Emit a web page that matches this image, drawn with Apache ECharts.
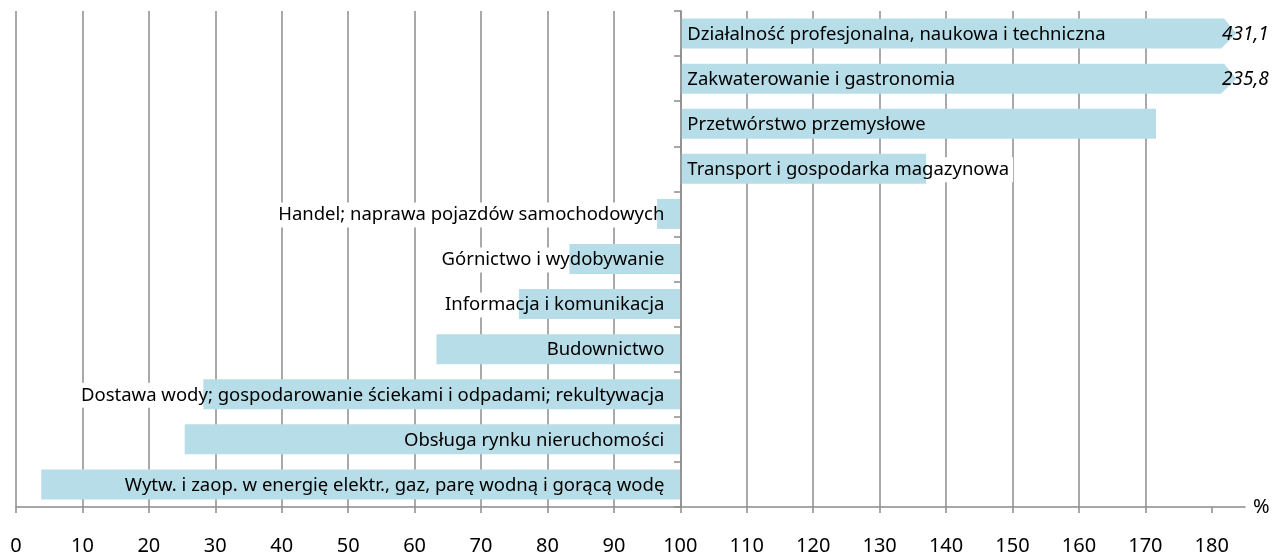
<!DOCTYPE html>
<html>
<head>
<meta charset="utf-8">
<script src="https://cdn.jsdelivr.net/npm/echarts@6/dist/echarts.min.js"></script>
<style>
	html, body { margin: 0; padding: 0; background: #fff; }
	#chart { width: 1274px; height: 556px; }
</style>
</head>
<body>
<div id="chart"></div>
<script>
	// kategorie od góry do dołu
	const categories = [
		'Działalność profesjonalna, naukowa i techniczna',
		'Zakwaterowanie i gastronomia',
		'Przetwórstwo przemysłowe',
		'Transport i gospodarka magazynowa',
		'Handel; naprawa pojazdów samochodowych',
		'Górnictwo i wydobywanie',
		'Informacja i komunikacja',
		'Budownictwo',
		'Dostawa wody; gospodarowanie ściekami i odpadami; rekultywacja',
		'Obsługa rynku nieruchomości',
		'Wytw. i zaop. w energię elektr., gaz, parę wodną i gorącą wodę'
	]
	const values = [431.1, 235.8, 171.6, 137.0, 96.5, 83.3, 75.7, 63.3, 28.2, 25.4, 3.8]
	const xTicks = [0, 10, 20, 30, 40, 50, 60, 70, 80, 90, 100, 110, 120, 130, 140, 150, 160, 170, 180]
	const baseValue = 100
	const axisMax = 185

	const font = '"Noto Sans", "Liberation Sans", sans-serif'
	const gray = '#8c8c8c'
	const barColor = '#b7dde8'

	const chart = echarts.init(document.getElementById('chart'))

	function renderBar(params, api) {
		const i = params.dataIndex
		const v = api.value(0)
		const cut = v > xTicks[xTicks.length - 1]
		const base = api.coord([baseValue, i])
		const end = api.coord([cut ? 181.4 : v, i])
		const tip = api.coord([183.7, i])
		const h = 30
		const y0 = base[1] - h / 2
		const y1 = base[1] + h / 2
		const up = v >= baseValue
		const tx = up ? base[0] + 7 : base[0] - 16
		const labelStyle = {
			text: categories[i],
			x: tx,
			y: base[1] + 1,
			align: up ? 'left' : 'right',
			verticalAlign: 'middle',
			font: '18.5px ' + font
		}
		const children = [{
			type: 'text',
			style: Object.assign({}, labelStyle, { fill: '#fff', backgroundColor: '#fff', padding: [3, 2] })
		}]
		if (cut) {
			children.push({
				type: 'polygon',
				shape: { points: [[base[0], y0], [end[0] + 3, y0], [tip[0], base[1]], [end[0], y1], [base[0], y1]] },
				style: { fill: barColor }
			})
		} else {
			children.push({
				type: 'rect',
				shape: { x: Math.min(base[0], end[0]), y: y0, width: Math.abs(end[0] - base[0]), height: h },
				style: { fill: barColor }
			})
		}
		children.push({ type: 'text', style: Object.assign({}, labelStyle, { fill: '#000' }) })
		if (cut) {
			children.push({
				type: 'text',
				style: {
					text: String(v.toFixed(1)).replace('.', ','),
					x: end[0] + 1,
					y: base[1] + 1,
					align: 'left',
					verticalAlign: 'middle',
					font: 'italic 19px ' + font,
					fill: '#000'
				}
			})
		}
		return { type: 'group', children: children }
	}

	chart.setOption({
		animation: false,
		backgroundColor: '#fff',
		grid: {
			left: 16,
			right: 29,
			top: 11,
			bottom: 49
		},
		xAxis: {
			type: 'value',
			min: 0,
			max: axisMax,
			interval: 10,
			name: '%',
			nameLocation: 'end',
			nameGap: 8,
			nameTextStyle: { color: '#000', fontSize: 20, fontFamily: font, verticalAlign: 'middle', padding: [6, 0, 0, 0] },
			axisLine: { show: true, lineStyle: { color: gray, width: 1.5 } },
			axisTick: { show: true, length: 6, customValues: xTicks, lineStyle: { color: gray, width: 1.5 } },
			axisLabel: { customValues: xTicks, margin: 29, color: '#000', fontSize: 20, fontFamily: font },
			splitLine: { show: true, showMaxLine: false, lineStyle: { color: gray, width: 1.5 } }
		},
		yAxis: {
			type: 'category',
			data: categories,
			inverse: true,
			offset: -665,
			z: 5,
			axisLine: { show: true, lineStyle: { color: gray, width: 1.5 } },
			axisTick: { show: true, length: 7, lineStyle: { color: gray, width: 1.5 } },
			axisLabel: { show: false },
			splitLine: { show: false }
		},
		series: [{
			type: 'custom',
			renderItem: renderBar,
			encode: { x: 0, y: 1 },
			data: values.map((v, i) => [v, i])
		}]
	})
</script>
</body>
</html>
